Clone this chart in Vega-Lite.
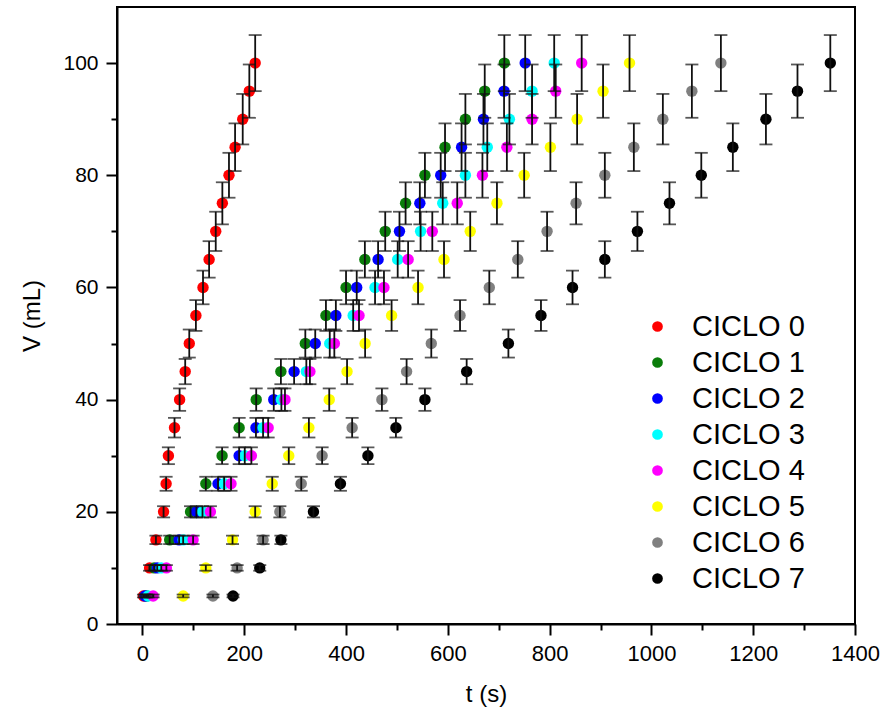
{
"$schema": "https://vega.github.io/schema/vega-lite/v6.json",
"width": 738, "height": 617,
"autosize": {"type": "none"},
"padding": {"left": 117, "top": 7, "right": 29, "bottom": 96},
"background": "white",
"config": {
  "view": {"stroke": "black", "strokeWidth": 2},
  "axis": {"domainColor": "black", "domainWidth": 2, "tickColor": "black", "tickWidth": 2, "grid": false,
           "labelFont": "Liberation Sans", "labelFontSize": 21, "labelColor": "black",
           "titleFont": "Liberation Sans", "titleFontSize": 24, "titleFontWeight": "normal", "titleColor": "black",
           "tickSize": 11, "labelPadding": 8}
},
"datasets": {
  "d": [
    {"c":"CICLO 0","V":5,"t":2},{"c":"CICLO 0","V":10,"t":14},{"c":"CICLO 0","V":15,"t":26.5},{"c":"CICLO 0","V":20,"t":41.5},{"c":"CICLO 0","V":25,"t":46.5},{"c":"CICLO 0","V":30,"t":51},{"c":"CICLO 0","V":35,"t":63},{"c":"CICLO 0","V":40,"t":73},{"c":"CICLO 0","V":45,"t":84},{"c":"CICLO 0","V":50,"t":92},{"c":"CICLO 0","V":55,"t":105},{"c":"CICLO 0","V":60,"t":119},{"c":"CICLO 0","V":65,"t":131},{"c":"CICLO 0","V":70,"t":144},{"c":"CICLO 0","V":75,"t":157},{"c":"CICLO 0","V":80,"t":170},{"c":"CICLO 0","V":85,"t":182},{"c":"CICLO 0","V":90,"t":197},{"c":"CICLO 0","V":95,"t":210},{"c":"CICLO 0","V":100,"t":221.5},
    {"c":"CICLO 1","V":5,"t":8},{"c":"CICLO 1","V":10,"t":23},{"c":"CICLO 1","V":15,"t":53.5},{"c":"CICLO 1","V":20,"t":94.5},{"c":"CICLO 1","V":25,"t":124.5},{"c":"CICLO 1","V":30,"t":156.5},{"c":"CICLO 1","V":35,"t":190},{"c":"CICLO 1","V":40,"t":223.5},{"c":"CICLO 1","V":45,"t":272},{"c":"CICLO 1","V":50,"t":320},{"c":"CICLO 1","V":55,"t":360.5},{"c":"CICLO 1","V":60,"t":400},{"c":"CICLO 1","V":65,"t":437},{"c":"CICLO 1","V":70,"t":477},{"c":"CICLO 1","V":75,"t":517},{"c":"CICLO 1","V":80,"t":555},{"c":"CICLO 1","V":85,"t":594.5},{"c":"CICLO 1","V":90,"t":634.5},{"c":"CICLO 1","V":95,"t":672.5},{"c":"CICLO 1","V":100,"t":711},
    {"c":"CICLO 2","V":5,"t":5},{"c":"CICLO 2","V":10,"t":29},{"c":"CICLO 2","V":15,"t":72},{"c":"CICLO 2","V":20,"t":106},{"c":"CICLO 2","V":25,"t":148.5},{"c":"CICLO 2","V":30,"t":190},{"c":"CICLO 2","V":35,"t":223},{"c":"CICLO 2","V":40,"t":258},{"c":"CICLO 2","V":45,"t":298},{"c":"CICLO 2","V":50,"t":339.5},{"c":"CICLO 2","V":55,"t":380},{"c":"CICLO 2","V":60,"t":421},{"c":"CICLO 2","V":65,"t":463},{"c":"CICLO 2","V":70,"t":505},{"c":"CICLO 2","V":75,"t":545},{"c":"CICLO 2","V":80,"t":586},{"c":"CICLO 2","V":85,"t":627},{"c":"CICLO 2","V":90,"t":670},{"c":"CICLO 2","V":95,"t":710.5},{"c":"CICLO 2","V":100,"t":752},
    {"c":"CICLO 3","V":5,"t":11},{"c":"CICLO 3","V":10,"t":37},{"c":"CICLO 3","V":15,"t":80},{"c":"CICLO 3","V":20,"t":118},{"c":"CICLO 3","V":25,"t":160.5},{"c":"CICLO 3","V":30,"t":201},{"c":"CICLO 3","V":35,"t":237},{"c":"CICLO 3","V":40,"t":273},{"c":"CICLO 3","V":45,"t":322},{"c":"CICLO 3","V":50,"t":368},{"c":"CICLO 3","V":55,"t":414},{"c":"CICLO 3","V":60,"t":457},{"c":"CICLO 3","V":65,"t":501.5},{"c":"CICLO 3","V":70,"t":546.5},{"c":"CICLO 3","V":75,"t":590},{"c":"CICLO 3","V":80,"t":634.5},{"c":"CICLO 3","V":85,"t":677.5},{"c":"CICLO 3","V":90,"t":721},{"c":"CICLO 3","V":95,"t":765.5},{"c":"CICLO 3","V":100,"t":809},
    {"c":"CICLO 4","V":5,"t":21},{"c":"CICLO 4","V":10,"t":47},{"c":"CICLO 4","V":15,"t":99.5},{"c":"CICLO 4","V":20,"t":133.5},{"c":"CICLO 4","V":25,"t":174},{"c":"CICLO 4","V":30,"t":214},{"c":"CICLO 4","V":35,"t":247},{"c":"CICLO 4","V":40,"t":280},{"c":"CICLO 4","V":45,"t":329},{"c":"CICLO 4","V":50,"t":377},{"c":"CICLO 4","V":55,"t":425.5},{"c":"CICLO 4","V":60,"t":474.5},{"c":"CICLO 4","V":65,"t":522},{"c":"CICLO 4","V":70,"t":569.5},{"c":"CICLO 4","V":75,"t":618.5},{"c":"CICLO 4","V":80,"t":668},{"c":"CICLO 4","V":85,"t":716},{"c":"CICLO 4","V":90,"t":765.5},{"c":"CICLO 4","V":95,"t":812},{"c":"CICLO 4","V":100,"t":863},
    {"c":"CICLO 5","V":5,"t":80},{"c":"CICLO 5","V":10,"t":124.5},{"c":"CICLO 5","V":15,"t":177},{"c":"CICLO 5","V":20,"t":221.5},{"c":"CICLO 5","V":25,"t":255},{"c":"CICLO 5","V":30,"t":287.5},{"c":"CICLO 5","V":35,"t":327},{"c":"CICLO 5","V":40,"t":367},{"c":"CICLO 5","V":45,"t":402},{"c":"CICLO 5","V":50,"t":437.5},{"c":"CICLO 5","V":55,"t":489.5},{"c":"CICLO 5","V":60,"t":541.5},{"c":"CICLO 5","V":65,"t":592.5},{"c":"CICLO 5","V":70,"t":644},{"c":"CICLO 5","V":75,"t":696.5},{"c":"CICLO 5","V":80,"t":750},{"c":"CICLO 5","V":85,"t":801.5},{"c":"CICLO 5","V":90,"t":854},{"c":"CICLO 5","V":95,"t":905},{"c":"CICLO 5","V":100,"t":957},
    {"c":"CICLO 6","V":5,"t":138.5},{"c":"CICLO 6","V":10,"t":186},{"c":"CICLO 6","V":15,"t":237},{"c":"CICLO 6","V":20,"t":270},{"c":"CICLO 6","V":25,"t":312},{"c":"CICLO 6","V":30,"t":353},{"c":"CICLO 6","V":35,"t":412},{"c":"CICLO 6","V":40,"t":470.5},{"c":"CICLO 6","V":45,"t":519},{"c":"CICLO 6","V":50,"t":567.5},{"c":"CICLO 6","V":55,"t":624},{"c":"CICLO 6","V":60,"t":681.5},{"c":"CICLO 6","V":65,"t":737.5},{"c":"CICLO 6","V":70,"t":795},{"c":"CICLO 6","V":75,"t":852},{"c":"CICLO 6","V":80,"t":908.5},{"c":"CICLO 6","V":85,"t":965.5},{"c":"CICLO 6","V":90,"t":1022.5},{"c":"CICLO 6","V":95,"t":1079.5},{"c":"CICLO 6","V":100,"t":1136.5},
    {"c":"CICLO 7","V":5,"t":178},{"c":"CICLO 7","V":10,"t":230.5},{"c":"CICLO 7","V":15,"t":272},{"c":"CICLO 7","V":20,"t":336},{"c":"CICLO 7","V":25,"t":389},{"c":"CICLO 7","V":30,"t":443},{"c":"CICLO 7","V":35,"t":498},{"c":"CICLO 7","V":40,"t":555},{"c":"CICLO 7","V":45,"t":637},{"c":"CICLO 7","V":50,"t":719},{"c":"CICLO 7","V":55,"t":783},{"c":"CICLO 7","V":60,"t":845},{"c":"CICLO 7","V":65,"t":908.5},{"c":"CICLO 7","V":70,"t":972.5},{"c":"CICLO 7","V":75,"t":1035.5},{"c":"CICLO 7","V":80,"t":1098},{"c":"CICLO 7","V":85,"t":1160},{"c":"CICLO 7","V":90,"t":1225},{"c":"CICLO 7","V":95,"t":1287},{"c":"CICLO 7","V":100,"t":1351.5}
  ]
},
"data": {"name": "d"},
"transform": [
  {"calculate": "datum.V*0.95", "as": "lo"},
  {"calculate": "datum.V*1.05", "as": "hi"}
],
"layer": [
  {
    "mark": {"type": "point", "filled": true, "opacity": 1, "size": 130, "strokeWidth": 0},
    "encoding": {
      "x": {"field": "t", "type": "quantitative",
            "scale": {"domain": [-50, 1400], "nice": false, "zero": false},
            "axis": {"orient": "bottom", "values": [0,200,400,600,800,1000,1200,1400], "format": "d", "title": "t (s)", "labelFontSize": 22, "titlePadding": 18, "labelFlush": false}},
      "y": {"field": "V", "type": "quantitative",
            "scale": {"domain": [0, 110], "nice": false, "zero": false},
            "axis": {"orient": "left", "values": [0,20,40,60,80,100], "title": "V (mL)", "titlePadding": 18}},
      "color": {"field": "c", "type": "nominal",
                "scale": {"domain": ["CICLO 0","CICLO 1","CICLO 2","CICLO 3","CICLO 4","CICLO 5","CICLO 6","CICLO 7"],
                          "range": ["#ff0000","#0a7d0a","#0000ff","#00ffff","#ff00ff","#ffff00","#808080","#000000"]},
                "legend": {"orient": "none", "legendX": 526, "legendY": 305, "title": null,
                           "labelFont": "Liberation Sans", "labelFontSize": 29, "labelColor": "black",
                           "symbolType": "circle", "symbolSize": 115, "symbolStrokeWidth": 0,
                           "labelOffset": 20, "rowPadding": 6, "padding": 0}}
    }
  },
  {
    "mark": {"type": "rule", "color": "#111111", "strokeWidth": 1.8},
    "encoding": {
      "x": {"field": "t", "type": "quantitative",
            "axis": {"orient": "bottom", "values": [100,300,500,700,900,1100,1300], "labels": false, "tickSize": 6, "domain": false, "title": null}},
      "y": {"field": "lo", "type": "quantitative",
            "axis": {"orient": "left", "values": [10,30,50,70,90], "labels": false, "tickSize": 6, "domain": false, "title": null}},
      "y2": {"field": "hi"}
    }
  },
  {
    "mark": {"type": "tick", "orient": "horizontal", "color": "#111111", "thickness": 1.8, "size": 13},
    "encoding": {
      "x": {"field": "t", "type": "quantitative", "axis": null},
      "y": {"field": "lo", "type": "quantitative", "axis": null}
    }
  },
  {
    "mark": {"type": "tick", "orient": "horizontal", "color": "#111111", "thickness": 1.8, "size": 13},
    "encoding": {
      "x": {"field": "t", "type": "quantitative", "axis": null},
      "y": {"field": "hi", "type": "quantitative", "axis": null}
    }
  }
],
"resolve": {"axis": {"x": "independent", "y": "independent"}}
}
